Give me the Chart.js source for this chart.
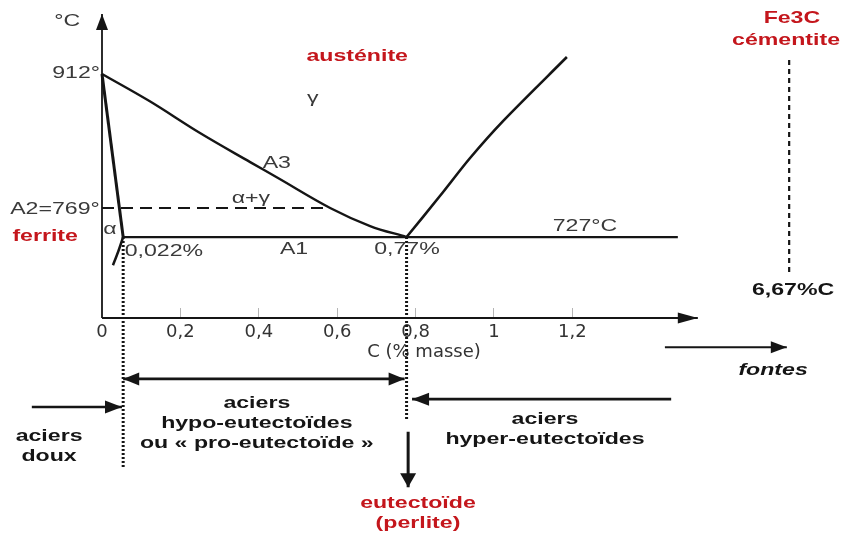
<!DOCTYPE html>
<html><head><meta charset="utf-8">
<script src="https://cdn.jsdelivr.net/npm/chart.js@4.4.1/dist/chart.umd.min.js"></script>
<style>html,body{margin:0;padding:0;background:#fff;}#wrap{width:848px;height:533px;}</style>
</head><body><div id="wrap"><canvas id="c" width="848" height="533"></canvas></div>
<script>
// ---- data (x = % C masse, y = °C) ----
const X_TICKS = [0, 0.2, 0.4, 0.6, 0.8, 1, 1.2];
const X_TICK_LABELS = ['0', '0,2', '0,4', '0,6', '0,8', '1', '1,2'];

const YAXIS_X = [0, 0];         const YAXIS_T = [635.1, 980];
const XAXIS_X = [0, 1.52];      const XAXIS_T = [635.1, 635.1];

const ALPHA_X = [0, 0.054];     const ALPHA_T = [912, 727];
const SOLVUS_X = [0.054, 0.041, 0.028]; const SOLVUS_T = [727, 710, 695];
const A3_X = [0, 0.122, 0.250, 0.378, 0.449, 0.582, 0.684, 0.777];
const A3_T = [912, 881, 845, 812, 794, 760, 739.5, 727];
const ACM_X = [0.777, 0.862, 0.939, 1.023, 1.186];
const ACM_T = [727, 773.5, 816.7, 858.6, 931.3];
const A1_X = [0.054, 1.469];    const A1_T = [727, 727];
const A2_X = [0, 0.582];        const A2_T = [760, 760];
const FE3C_X = [1.753, 1.753];  const FE3C_T = [928, 687];

const DOT1_X = [0.054, 0.054];  const DOT1_T = [727, 465];
const DOT2_X = [0.777, 0.777];  const DOT2_T = [727, 519];

const HYPO_X = [0.054, 0.772];  const HYPO_T = [566, 566];
const DOUX_X = [-0.179, 0.051]; const DOUX_T = [534, 534];
const HYPER_X = [1.452, 0.791]; const HYPER_T = [543, 543];
const EUT_X = [0.781, 0.781];   const EUT_T = [506, 443];
const FONTES_X = [1.436, 1.747]; const FONTES_T = [602, 602];

// ---- styling / layout ----
const INK = '#151515', GREY = '#3a3a3a', RED = '#c4161c';
const FAM = '"Liberation Sans", Arial, sans-serif';
const STRETCH = 1.36;
const REG = '17px ' + FAM, BOLD = 'bold 17px ' + FAM, BI = 'italic bold 17px ' + FAM;

const ANNOTS = [
  {text: '°C', x: -0.089, t: 972, font: REG, color: GREY},
  {text: '912°', x: -0.066, t: 913, font: REG, color: GREY},
  {text: 'A2=769°', x: -0.120, t: 758.8, font: REG, color: GREY},
  {text: 'ferrite', x: -0.145, t: 728, font: BOLD, color: RED},
  {text: 'α', x: 0.020, t: 736, font: REG, color: GREY},
  {text: '0,022%', x: 0.158, t: 711, font: REG, color: GREY},
  {text: 'A1', x: 0.490, t: 713.4, font: REG, color: GREY},
  {text: '0,77%', x: 0.778, t: 713.4, font: REG, color: GREY},
  {text: '727°C', x: 1.232, t: 739.5, font: REG, color: GREY},
  {text: 'A3', x: 0.446, t: 811, font: REG, color: GREY},
  {text: 'α+γ', x: 0.380, t: 771.3, font: REG, color: GREY},
  {text: 'γ', x: 0.538, t: 884.8, font: REG, color: GREY},
  {text: 'austénite', x: 0.651, t: 932.4, font: BOLD, color: RED},
  {text: 'Fe3C', x: 1.760, t: 975.5, font: BOLD, color: RED},
  {text: 'cémentite', x: 1.745, t: 950.6, font: BOLD, color: RED},
  {text: '6,67%C', x: 1.763, t: 666.8, font: BOLD, color: INK},
  {text: 'aciers', x: 0.395, t: 538.6, font: BOLD, color: INK},
  {text: 'hypo-eutectoïdes', x: 0.395, t: 515.9, font: BOLD, color: INK},
  {text: 'ou « pro-eutectoïde »', x: 0.395, t: 493.2, font: BOLD, color: INK},
  {text: 'aciers', x: -0.135, t: 501.1, font: BOLD, color: INK},
  {text: 'doux', x: -0.135, t: 478.5, font: BOLD, color: INK},
  {text: 'aciers', x: 1.130, t: 520.4, font: BOLD, color: INK},
  {text: 'hyper-eutectoïdes', x: 1.130, t: 497.7, font: BOLD, color: INK},
  {text: 'eutectoïde', x: 0.806, t: 425.1, font: BOLD, color: RED},
  {text: '(perlite)', x: 0.806, t: 402.4, font: BOLD, color: RED},
  {text: 'fontes', x: 1.712, t: 576.1, font: BI, color: INK}
];

function series(xs, ts, opts) {
  return Object.assign({
    data: xs.map((x, i) => ({x: x, y: ts[i]})),
    borderColor: INK, borderWidth: 2.5, pointRadius: 0, fill: false, tension: 0,
    borderCapStyle: 'butt'
  }, opts || {});
}

const datasets = [
  series(YAXIS_X, YAXIS_T, {borderWidth: 1.8, arrowEnd: {len: 16, half: 6}}),
  series(XAXIS_X, XAXIS_T, {borderWidth: 1.8, arrowEnd: {len: 20, half: 5.5}}),
  series(ALPHA_X, ALPHA_T, {borderWidth: 3}),
  series(SOLVUS_X, SOLVUS_T, {borderWidth: 2.5, tension: 0.3}),
  series(A3_X, A3_T, {borderWidth: 2.4, tension: 0.35}),
  series(ACM_X, ACM_T, {borderWidth: 2.6, tension: 0.3}),
  series(A1_X, A1_T, {borderWidth: 2.2}),
  series(A2_X, A2_T, {borderWidth: 2, borderDash: [12, 7]}),
  series(FE3C_X, FE3C_T, {borderWidth: 2.2, borderDash: [5, 4]}),
  series(DOT1_X, DOT1_T, {borderWidth: 3, borderDash: [2, 2]}),
  series(DOT2_X, DOT2_T, {borderWidth: 3, borderDash: [2, 2]}),
  series(HYPO_X, HYPO_T, {borderWidth: 2.8, arrowStart: {len: 16, half: 6.5}, arrowEnd: {len: 16, half: 6.5}}),
  series(DOUX_X, DOUX_T, {borderWidth: 2.5, arrowEnd: {len: 17, half: 6.5}}),
  series(HYPER_X, HYPER_T, {borderWidth: 2.8, arrowEnd: {len: 17, half: 6.5}}),
  series(EUT_X, EUT_T, {borderWidth: 3, arrowEnd: {len: 14, half: 8}}),
  series(FONTES_X, FONTES_T, {borderWidth: 2, arrowEnd: {len: 16, half: 6}})
];

function head(ctx, tip, from, a) {
  const dx = tip.x - from.x, dy = tip.y - from.y;
  const L = Math.hypot(dx, dy) || 1, ux = dx / L, uy = dy / L;
  const bx = tip.x - ux * a.len, by = tip.y - uy * a.len;
  ctx.beginPath();
  ctx.moveTo(tip.x, tip.y);
  ctx.lineTo(bx - uy * a.half, by + ux * a.half);
  ctx.lineTo(bx + uy * a.half, by - ux * a.half);
  ctx.closePath();
  ctx.fill();
}

const arrowPlugin = {
  id: 'arrows',
  afterDatasetsDraw(chart) {
    const ctx = chart.ctx;
    chart.data.datasets.forEach((ds, i) => {
      const pts = chart.getDatasetMeta(i).data;
      if (pts.length < 2) return;
      ctx.save();
      ctx.fillStyle = ds.borderColor;
      if (ds.arrowEnd) head(ctx, pts[pts.length - 1], pts[pts.length - 2], ds.arrowEnd);
      if (ds.arrowStart) head(ctx, pts[0], pts[1], ds.arrowStart);
      ctx.restore();
    });
  }
};

const textPlugin = {
  id: 'texts',
  afterDatasetsDraw(chart) {
    const ctx = chart.ctx, sx = chart.scales.x, sy = chart.scales.y;
    ANNOTS.forEach(a => {
      const px = sx.getPixelForValue(a.x), py = sy.getPixelForValue(a.t);
      ctx.save();
      ctx.font = a.font;
      ctx.fillStyle = a.color;
      ctx.textAlign = 'center';
      ctx.textBaseline = 'middle';
      ctx.translate(px, py);
      ctx.scale(STRETCH, 1);
      ctx.fillText(a.text, 0, 0);
      ctx.restore();
    });
  }
};

new Chart(document.getElementById('c'), {
  type: 'line',
  data: {datasets: datasets},
  options: {
    responsive: false, animation: false, devicePixelRatio: 1,
    layout: {padding: 0},
    plugins: {legend: {display: false}, tooltip: {enabled: false}, title: {display: false}},
    scales: {
      x: {
        type: 'linear', min: -0.2602, max: 1.9031,
        position: {y: 635.1},
        afterBuildTicks: ax => { ax.ticks = X_TICKS.map(v => ({value: v})); },
        ticks: {
          callback: (v, i) => X_TICK_LABELS[i],
          font: {family: '"DejaVu Sans", sans-serif', size: 18},
          color: '#333', padding: 14, maxRotation: 0, autoSkip: false
        },
        grid: {
          drawOnChartArea: false, drawTicks: true, tickLength: -10, lineWidth: 1,
          color: c => (c.tick && c.tick.value === 0) ? 'rgba(0,0,0,0)' : '#b5b5b5'
        },
        border: {display: false},
        title: {display: true, text: 'C (% masse)', color: '#333',
                font: {family: '"DejaVu Sans", sans-serif', size: 18}, padding: {top: -16, bottom: 0}}
      },
      y: {type: 'linear', min: 391.1, max: 996, display: false}
    }
  },
  plugins: [arrowPlugin, textPlugin]
});
</script></body></html>
